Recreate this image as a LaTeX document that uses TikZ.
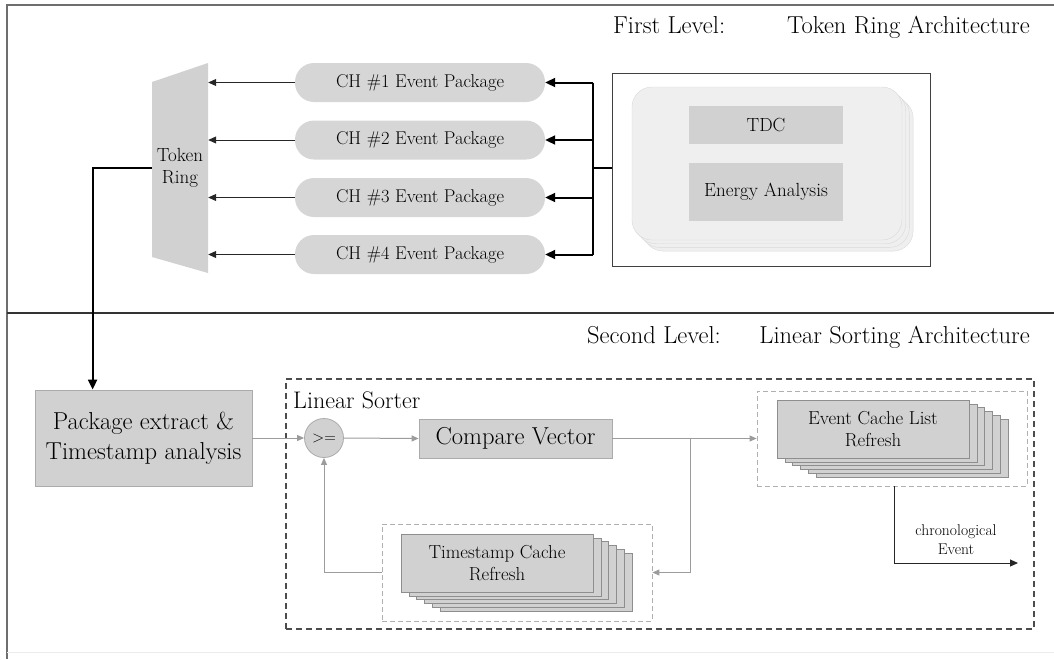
\documentclass[tikz,border=0pt]{standalone}
\usetikzlibrary{arrows.meta,calc}

\newcommand{\fsz}[2]{\fontsize{#1}{#2}\selectfont}

\definecolor{boxgray}{HTML}{D1D1D1}
\definecolor{pillgray}{HTML}{D6D6D6}
\definecolor{edgegray}{HTML}{ABABAB}
\definecolor{linegray}{HTML}{9C9C9C}
\definecolor{stackline}{HTML}{8E8E8E}
\definecolor{chipfill}{HTML}{EFEFEF}
\definecolor{chipedge}{HTML}{D9D9D9}
\definecolor{framegray}{HTML}{6E6E6E}

\begin{document}
\begin{tikzpicture}[x=1pt,y=-1pt,
  pill/.style={fill=pillgray, rounded corners=19pt, minimum width=250pt,
    minimum height=39pt, inner sep=0pt, font=\fsz{18.5}{22}},
  procbox/.style={fill=boxgray, draw=edgegray, line width=0.8pt, inner sep=0pt},
  layerbox/.style={fill=boxgray, draw=stackline, line width=0.6pt},
  graydash/.style={draw=linegray!80, dashed, line width=0.8pt, dash pattern=on 5pt off 3pt},
  tarrow/.style={-{Triangle[length=8pt,width=7pt]}, line width=1pt, black!85},
  barrow/.style={-{Triangle[length=10pt,width=9pt]}, line width=2pt, black},
  garrow/.style={-{Triangle[length=7pt,width=6pt]}, line width=1pt, linegray},
  title/.style={font=\fsz{24.5}{28}, inner sep=0pt}
]
\useasboundingbox (0,0) rectangle (1054,659);

% outer frame and level divider
\draw[framegray, line width=1.8pt] (7,659) -- (7,5) -- (1054,5);
\draw[black!80, line width=1.2pt] (7,313) -- (1054,313);
\draw[black!8, line width=1pt] (7,652) -- (1054,652);

% level titles
\node[title, anchor=base west] (t1a) at (613,33) {First Level:};
\node[title, anchor=base east] (t1b) at (1030,33) {Token Ring Architecture};
\node[title, anchor=base west] (t2a) at (587,343) {Second Level:};
\node[title, anchor=base east] (t2b) at (1030,343) {Linear Sorting Architecture};

% ---------------- first level ----------------
% token ring (trapezoid)
\fill[boxgray] (152,82) -- (208,63) -- (208,273) -- (152,257) -- cycle;
\node[minimum width=56pt, minimum height=210pt, inner sep=0pt,
      font=\fsz{19}{22}, align=center] (tr) at (180,168) {Token\\Ring};

% channel event packages
\foreach \i/\y in {1/82.5, 2/140, 3/197.5, 4/254.5}{
  \node[pill] (p\i) at (420,\y) {CH \#\i{} Event Package};
  \draw[tarrow] (p\i.west) -- (p\i.west -| tr.east);
}

% front-end channel block
\node[draw=black!75, line width=1pt, minimum width=318pt, minimum height=193pt,
      inner sep=0pt] (wb) at (771,169.5) {};
\foreach \k in {3,2,1}
  \draw[chipedge, fill=chipfill, rounded corners=20pt]
    ($(632,87)+\k*(3.7,3.7)$) rectangle +(270,153);
\node[draw=chipedge, fill=chipfill, rounded corners=20pt, minimum width=270pt,
      minimum height=153pt, inner sep=0pt] (chip) at (767,163.5) {};
\node[fill=boxgray, minimum width=154pt, minimum height=38pt, inner sep=0pt,
      font=\fsz{19}{22}] (tdc) at (766,125) {TDC};
\node[fill=boxgray, minimum width=154pt, minimum height=58pt, inner sep=0pt,
      font=\fsz{19}{22}] (ea) at (766,192) {Energy Analysis};

% distribution bus
\coordinate (bus) at (593,168);
\draw[black, line width=2pt] (bus |- p1) -- (bus |- p4);
\draw[black, line width=2pt] (bus) -- (bus -| wb.west);
\foreach \i in {1,...,4}
  \draw[barrow] (bus |- p\i) -- (p\i.east);

% ---------------- second level ----------------
\node[procbox, minimum width=217pt, minimum height=96pt, font=\fsz{24.5}{30},
      align=center] (pkg) at (143.5,438) {Package extract \&\\Timestamp analysis};
\draw[barrow] (tr.west) -| ($(pkg.north west)+(58,0)$);

% linear sorter
\node[draw=black!70, line width=1.3pt, dash pattern=on 6pt off 4pt,
      minimum width=748pt, minimum height=250pt, inner sep=0pt] (sorter) at (660,504) {};
\node[anchor=base west, font=\fsz{24}{26}, inner sep=0pt] (sortlabel) at (293,408) {Linear Sorter};

\node[circle, fill=boxgray, draw=edgegray, line width=0.8pt, minimum size=39pt,
      inner sep=0pt, font=\fsz{16}{18}] (cmp) at (324,438) {>=};
\node[procbox, minimum width=193pt, minimum height=39pt, font=\fsz{24.5}{28}]
      (cv) at (515.5,438.5) {Compare Vector};

% event cache list
\node[graydash, minimum width=270pt, minimum height=95pt, inner sep=0pt] (evbox) at (892,438.5) {};
\foreach \k in {5,...,1}
  \draw[layerbox] ($(777,400)+\k*(7.8,3.8)$) rectangle +(192,58);
\node[layerbox, minimum width=192pt, minimum height=58pt, inner sep=0pt,
      font=\fsz{18.8}{22}, align=center] (evfront) at (873,429) {Event Cache List\\Refresh};

% timestamp cache
\node[graydash, minimum width=270pt, minimum height=97pt, inner sep=0pt] (tsbox) at (517,572.5) {};
\foreach \k in {5,...,1}
  \draw[layerbox] ($(401,534)+\k*(7.8,3.8)$) rectangle +(192,58);
\node[layerbox, minimum width=192pt, minimum height=58pt, inner sep=0pt,
      font=\fsz{18.8}{22}, align=center] (tsfront) at (497,563) {Timestamp Cache\\Refresh};

% sorter data flow
\draw[garrow] (pkg.east) -- (cmp.west);
\draw[garrow] (cmp.east) -- (cv.west);
\draw[garrow] (cv.east) -- (evbox.west);
\coordinate (split) at (690,438.5);
\draw[garrow] (split) |- (tsbox.east);
\draw[garrow] (tsbox.west) -| (cmp.south);

% sorted output
\coordinate (evout) at (1018,563);
\draw[tarrow] ($(evbox.south west)+(138,0)$) |- (evout);
\node[font=\fsz{15.6}{19}, align=center, inner sep=0pt] (chrono) at (956,540) {chronological\\Event};

\end{tikzpicture}
\end{document}
